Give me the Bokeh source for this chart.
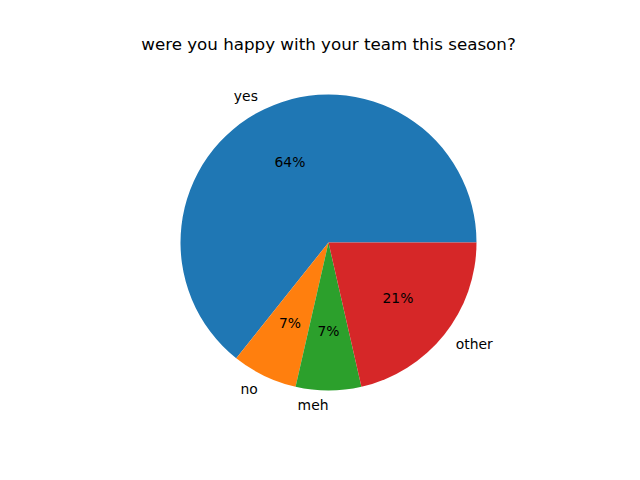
import numpy as np
from bokeh.plotting import figure
from bokeh.models import Range1d, ColumnDataSource
from bokeh.core.properties import value
from bokeh.embed import file_html
from bokeh.resources import INLINE

categories = ["yes", "no", "meh", "other"]
counts = [9, 1, 1, 3]
colors = ["#1f77b4", "#ff7f0e", "#2ca02c", "#d62728"]
title_text = "were you happy with your team this season?"

W, H = 624, 464
cx_px, cy_px = 328, 242  # pie centre within figure (pixels from top-left)
R = 148

p = figure(width=W, height=H, output_backend="svg", toolbar_location=None,
           x_range=Range1d(-cx_px, W - cx_px), y_range=Range1d(-(H - cy_px), cy_px),
           min_border=0, x_axis_location=None, y_axis_location=None)
p.grid.visible = False
p.outline_line_color = None
p.background_fill_color = "white"

vals = np.array(counts, dtype=float)
frac = vals / vals.sum()
ends = np.cumsum(frac) * 2 * np.pi
starts = np.concatenate([[0.0], ends[:-1]])
mids = (starts + ends) / 2

src = ColumnDataSource(dict(start=starts, end=ends, color=colors))
p.wedge(x=0, y=0, radius=R, start_angle="start", end_angle="end",
        fill_color="color", line_color=None, source=src, direction="anticlock")

lx = 1.1 * R * np.cos(mids)
ly = 1.1 * R * np.sin(mids)
align = ["left" if v > 0 else "right" for v in lx]
lab = ColumnDataSource(dict(x=lx, y=ly, t=categories, a=align))
p.text(x="x", y="y", text="t", text_align="a", text_baseline="middle",
       text_font=value("DejaVu Sans"), text_font_size="13.9px", text_color="black", source=lab)

px = 0.6 * R * np.cos(mids)
py = 0.6 * R * np.sin(mids)
pct = ["%d%%" % round(f * 100) for f in frac]
pc = ColumnDataSource(dict(x=px, y=py, t=pct))
p.text(x="x", y="y", text="t", text_align="center", text_baseline="middle",
       text_font=value("DejaVu Sans"), text_font_size="13.9px", text_color="black", source=pc)

p.text(x=[0], y=[cy_px - 43], text=[title_text], text_align="center", text_baseline="middle",
       text_font=value("DejaVu Sans"), text_font_size="16.7px", text_color="black")

open("out.html", "w").write(file_html(p, INLINE))
